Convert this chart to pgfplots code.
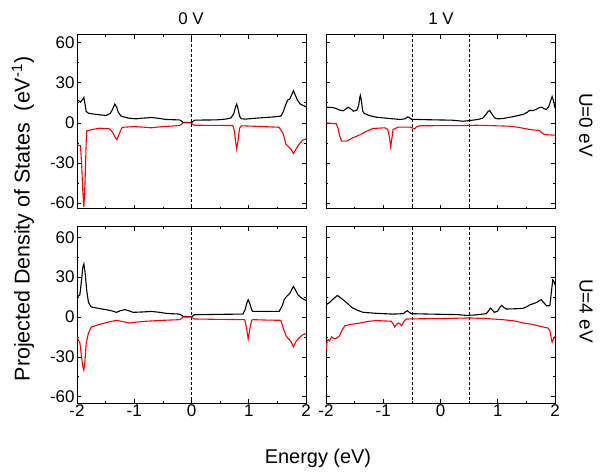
\documentclass[border=0pt]{standalone}
\usepackage{fontspec}
\setmainfont{Liberation Sans}
\usepackage{pgfplots}
\pgfplotsset{compat=1.18}

\pgfplotsset{
  dos/.style={
    scale only axis, width=229bp, height=174bp,
    anchor=north west,
    xmin=-2, xmax=2, xtick={-2,-1,0,1,2}, minor x tick num=1,
    ytick={-60,-30,0,30,60}, minor y tick num=1,
    tick align=inside, major tick length=4bp, minor tick length=2bp,
    tick style={black, line width=0.6bp},
    axis line style={line width=0.8bp},
    ticklabel style={font=\fontsize{17}{19}\selectfont},
    yticklabel style={xshift=1bp},
    xticklabel style={yshift=2bp},
    /pgf/number format/assume math mode=true,
  },
  up/.style={black, line width=1.1bp, no marks},
  dn/.style={red, line width=1.1bp, no marks},
  fermi/.style={black, line width=0.7bp, dash pattern=on 3bp off 2bp, no marks},
}

\begin{document}
\begin{tikzpicture}
\useasboundingbox (0,0) rectangle (606bp,-472bp);

% ---- U=0 eV, 0 V
\begin{axis}[dos, at={(77bp,-34.5bp)}, ymin=-64, ymax=66, xticklabels={}]
\addplot[fermi] coordinates {(0,-70) (0,70)};
\addplot[up] coordinates {
(-2,17) (-1.97,16.5) (-1.94,15.5) (-1.91,17) (-1.88,19) (-1.86,14) (-1.84,8.5)
(-1.80,7.2) (-1.7,6.5) (-1.6,6) (-1.49,5.5) (-1.42,7) (-1.38,10) (-1.34,14)
(-1.31,12) (-1.28,8) (-1.23,5) (-1.1,3.5) (-0.97,3) (-0.85,3.5) (-0.7,4)
(-0.6,3.5) (-0.44,2.5) (-0.3,2.3) (-0.21,2.2) (-0.17,1.2) (-0.15,0.3)
(-0.02,0.3) (0,0) (0.03,1.2) (0.06,2) (0.2,2.1) (0.43,2.2) (0.6,2.8)
(0.69,3.7) (0.74,7) (0.77,12) (0.79,14) (0.81,11) (0.84,5) (0.87,3)
(0.95,2.8) (1.05,3.2) (1.19,3.7) (1.4,4.3) (1.56,5) (1.6,8) (1.64,13)
(1.68,17) (1.72,18) (1.75,21) (1.78,24) (1.81,21) (1.85,17) (1.9,14) (2,12)};
\addplot[dn] coordinates {
(-2,-16.5) (-1.94,-17) (-1.92,-30) (-1.90,-50) (-1.88,-63) (-1.86,-45)
(-1.84,-15) (-1.83,-6) (-1.7,-4.7) (-1.6,-4) (-1.43,-4.5) (-1.38,-7)
(-1.33,-11) (-1.30,-12.5) (-1.27,-9) (-1.22,-4) (-1.2,-3.3) (-1.0,-2.8)
(-0.85,-3.2) (-0.7,-3.7) (-0.55,-3) (-0.38,-2.5) (-0.21,-2) (-0.17,-1)
(-0.15,0) (-0.02,0) (0.02,-1) (0.05,-1.8) (0.4,-1.9) (0.72,-2) (0.75,-6)
(0.77,-14) (0.79,-19.5) (0.81,-14) (0.84,-4) (0.87,-2.2) (1.2,-2.7)
(1.53,-3.3) (1.6,-8) (1.65,-16) (1.7,-18) (1.74,-20) (1.78,-23) (1.82,-20)
(1.88,-16) (1.94,-13) (2,-12)};
\end{axis}

% ---- U=0 eV, 1 V
\begin{axis}[dos, at={(326bp,-34.5bp)}, ymin=-64, ymax=66, xticklabels={}, yticklabels={}]
\addplot[fermi] coordinates {(-0.5,-70) (-0.5,70)};
\addplot[fermi] coordinates {(0.5,-70) (0.5,70)};
\addplot[up] coordinates {
(-2,11.7) (-1.9,11.5) (-1.84,11) (-1.76,9.5) (-1.70,9) (-1.65,10.5)
(-1.61,11.7) (-1.57,10.5) (-1.52,8.7) (-1.46,9.5) (-1.43,13) (-1.41,19)
(-1.40,20.5) (-1.38,16) (-1.36,9) (-1.33,7) (-1.25,5.5) (-1.12,4.2)
(-0.9,3.3) (-0.71,2.5) (-0.62,3) (-0.57,4.5) (-0.53,3.5) (-0.51,2.7)
(-0.3,2.4) (-0.07,2.2) (0.2,2) (0.39,1.2) (0.51,1.7) (0.65,2.5) (0.74,3.5)
(0.79,6) (0.83,8.5) (0.86,9.2) (0.9,6.5) (0.95,3.5) (1.0,3) (1.09,3.2)
(1.25,4.5) (1.44,6.2) (1.52,8) (1.55,9.2) (1.62,9.2) (1.67,10) (1.73,11.5)
(1.77,11.7) (1.81,10.5) (1.85,10) (1.89,12) (1.92,16) (1.95,19.7) (1.97,17) (2,11)};
\addplot[dn] coordinates {
(-2,0) (-1.82,-0.7) (-1.79,-4) (-1.76,-10) (-1.73,-13.7) (-1.64,-13.7)
(-1.55,-11.5) (-1.41,-9) (-1.3,-6.5) (-1.18,-4.2) (-0.97,-3.7) (-0.92,-5)
(-0.89,-11) (-0.87,-18) (-0.85,-12) (-0.83,-5) (-0.74,-3.2) (-0.54,-3.2)
(-0.49,-3.8) (-0.45,-4.5) (-0.42,-3) (-0.36,-2.2) (0,-2.1) (0.51,-2)
(0.62,-1.8) (0.9,-2.1) (1.2,-2.5) (1.35,-3.3) (1.5,-4.5) (1.6,-5.2)
(1.73,-5.7) (1.77,-7.5) (1.81,-8.7) (1.9,-9) (2,-9.2)};
\end{axis}

% ---- U=4 eV, 0 V
\begin{axis}[dos, at={(77bp,-226.7bp)}, height=176.6bp, ymin=-65, ymax=68]
\addplot[fermi] coordinates {(0,-70) (0,70)};
\addplot[up] coordinates {
(-2,15) (-1.95,16.7) (-1.92,28) (-1.90,37) (-1.88,40) (-1.86,34) (-1.83,20)
(-1.80,11) (-1.75,7.5) (-1.6,6.3) (-1.49,5.5) (-1.38,4.5) (-1.31,3.5)
(-1.24,4.8) (-1.17,5.5) (-1.1,4.8) (-1.02,3.5) (-0.85,3.8) (-0.7,4.2)
(-0.55,3.5) (-0.44,2.7) (-0.21,2.2) (-0.17,1.2) (-0.15,0.5) (-0.02,0.2)
(0,0) (0.03,1) (0.05,1.7) (0.5,2) (0.9,2.2) (0.94,6) (0.97,11) (0.99,13)
(1.02,10) (1.05,5.5) (1.07,4.2) (1.3,4.2) (1.53,4.2) (1.58,8) (1.62,13)
(1.65,15) (1.72,18) (1.78,23) (1.82,20) (1.86,16.7) (1.93,14) (2,12.5)};
\addplot[dn] coordinates {
(-2,-15) (-1.95,-19.5) (-1.92,-30) (-1.90,-37) (-1.88,-40) (-1.86,-33)
(-1.84,-20) (-1.80,-12) (-1.75,-7.5) (-1.6,-5.5) (-1.45,-3.8) (-1.31,-2.5)
(-1.2,-3.5) (-1.08,-4.5) (-0.95,-3.8) (-0.79,-3.2) (-0.5,-2.5) (-0.21,-2)
(-0.17,-1) (-0.15,0) (-0.02,0) (0.02,-0.8) (0.05,-1.5) (0.5,-1.8)
(0.93,-2) (0.96,-8) (0.99,-16.5) (1.02,-9) (1.05,-2.5) (1.07,-2) (1.3,-2.3)
(1.56,-2.5) (1.6,-8) (1.65,-14) (1.68,-15.7) (1.73,-18) (1.78,-22.5)
(1.83,-18) (1.88,-15.7) (1.94,-13.5) (2,-12.5)};
\end{axis}

% ---- U=4 eV, 1 V
\begin{axis}[dos, at={(326bp,-226.7bp)}, height=176.6bp, ymin=-65, ymax=68, yticklabels={}]
\addplot[fermi] coordinates {(-0.5,-70) (-0.5,70)};
\addplot[fermi] coordinates {(0.5,-70) (0.5,70)};
\addplot[up] coordinates {
(-2,9.2) (-1.95,10.5) (-1.90,12.5) (-1.85,14.5) (-1.80,16.2) (-1.75,14.5)
(-1.70,13) (-1.62,10) (-1.55,7.2) (-1.45,5) (-1.35,3.5) (-1.1,2.7)
(-0.83,2.2) (-0.65,2.5) (-0.60,4.2) (-0.58,4.7) (-0.55,3.7) (-0.51,2.5)
(-0.2,2.2) (0.04,2) (0.3,1.8) (0.45,1.2) (0.6,1.5) (0.8,2.5) (0.84,4.5)
(0.87,6.7) (0.9,5.5) (0.94,3.5) (1.0,4.5) (1.04,7.5) (1.07,8.7) (1.11,7)
(1.15,6) (1.3,6.2) (1.44,6.5) (1.52,8) (1.56,9.2) (1.62,10) (1.68,11)
(1.73,12.5) (1.76,13) (1.8,11) (1.85,8.5) (1.91,8.5) (1.93,16) (1.96,28)
(1.98,27) (2,24)};
\addplot[dn] coordinates {
(-2,-25.7) (-1.98,-18) (-1.96,-17) (-1.94,-18) (-1.92,-16.5) (-1.90,-15)
(-1.87,-16) (-1.84,-16.5) (-1.80,-15.5) (-1.77,-14.5) (-1.72,-10)
(-1.67,-6.5) (-1.55,-5.5) (-1.41,-4.5) (-1.25,-3.2) (-1.12,-2.7)
(-0.86,-3.2) (-0.83,-5) (-0.80,-7.5) (-0.77,-5.5) (-0.73,-4.5) (-0.70,-5.5)
(-0.68,-6.5) (-0.64,-3.5) (-0.60,-1.5) (-0.3,-1.3) (0,-1.2) (0.51,-0.7)
(0.8,-1.2) (1.09,-2) (1.3,-3) (1.44,-4.5) (1.6,-5.5) (1.79,-7.5)
(1.87,-8.2) (1.91,-10) (1.93,-15) (1.95,-19) (1.97,-17) (2,-14.5)};
\end{axis}

% labels
\node[font=\fontsize{17}{19}\selectfont] at (191bp,-19bp) {0 V};
\node[font=\fontsize{17}{19}\selectfont] at (441bp,-19bp) {1 V};
\node[font=\fontsize{19}{21}\selectfont, rotate=-90] at (586bp,-125bp) {U=0 eV};
\node[font=\fontsize{19}{21}\selectfont, rotate=-90] at (586bp,-311bp) {U=4 eV};
\node[font=\fontsize{20}{22}\selectfont] at (318bp,-458bp) {Energy (eV)};
\node[font=\fontsize{21.5}{23}\selectfont, rotate=90] at (23bp,-219bp)
  {Projected Density of States\ \ (eV\textsuperscript{-1})};
\end{tikzpicture}
\end{document}
